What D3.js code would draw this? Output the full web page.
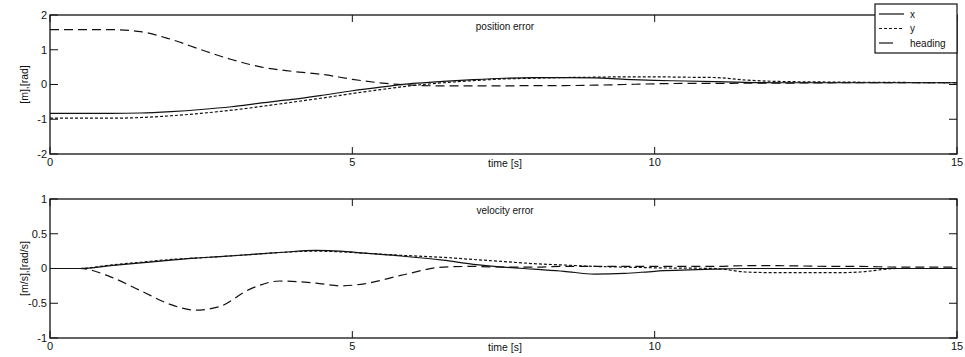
<!DOCTYPE html>
<html>
<head>
<meta charset="utf-8">
<script src="https://cdn.jsdelivr.net/npm/d3@7"></script>
<style>
  body { margin: 0; background: #fff; }
  text { font-family: "Liberation Sans", Arial, sans-serif; fill: #111; }
</style>
</head>
<body>
<div id="chart"></div>
<script>
// time samples [s]
const timePos = [0, 1, 1.5, 2, 2.5, 3, 3.5, 4, 4.5, 5, 5.5, 6, 6.5, 7, 7.5, 8, 8.5, 9, 9.5, 10, 10.5, 11, 11.5, 12, 13, 14, 15];
const posX =    [-0.83, -0.83, -0.82, -0.78, -0.72, -0.64, -0.53, -0.43, -0.31, -0.18, -0.07, 0.03, 0.09, 0.14, 0.18, 0.2, 0.2, 0.19, 0.15, 0.12, 0.1, 0.08, 0.06, 0.05, 0.05, 0.05, 0.05];
const posY =    [-0.97, -0.97, -0.95, -0.9, -0.83, -0.74, -0.63, -0.51, -0.39, -0.26, -0.14, -0.03, 0.05, 0.11, 0.16, 0.18, 0.2, 0.21, 0.22, 0.22, 0.21, 0.2, 0.13, 0.09, 0.07, 0.06, 0.05];
const posHead = [1.58, 1.58, 1.52, 1.3, 1.0, 0.72, 0.5, 0.38, 0.29, 0.15, 0.04, -0.02, -0.04, -0.04, -0.04, -0.03, -0.03, -0.02, 0, 0.02, 0.03, 0.03, 0.04, 0.04, 0.05, 0.05, 0.05];

const timeVel = [0, 0.5, 1, 1.5, 2, 2.4, 2.8, 3.3, 3.8, 4.4, 4.8, 5.2, 5.8, 6.5, 7, 7.5, 8, 8.5, 9, 9.5, 10, 11, 11.5, 12, 13, 13.4, 14, 15];
const velX =    [0, 0, 0.04, 0.08, 0.12, 0.15, 0.17, 0.2, 0.23, 0.26, 0.25, 0.22, 0.18, 0.12, 0.06, 0.02, -0.01, -0.04, -0.08, -0.07, -0.04, -0.01, 0, 0, 0, 0, 0, 0];
const velY =    [0, 0, 0.05, 0.09, 0.13, 0.15, 0.17, 0.2, 0.23, 0.25, 0.24, 0.22, 0.19, 0.16, 0.13, 0.1, 0.07, 0.05, 0.03, 0.02, 0.01, 0, -0.05, -0.06, -0.06, -0.05, 0, 0];
const velHead = [0, 0, -0.12, -0.32, -0.52, -0.6, -0.55, -0.3, -0.18, -0.21, -0.25, -0.22, -0.1, 0.02, 0.03, 0.02, 0.02, 0.03, 0.03, 0.03, 0.03, 0.03, 0.04, 0.04, 0.03, 0.03, 0.02, 0.02];

const xTicks = [0, 5, 10, 15];
const posTicks = [-2, -1, 0, 1, 2];
const velTicks = [-1, -0.5, 0, 0.5, 1];
const legendNames = ["x", "y", "heading"];

const width = 965, height = 357;
const left = 50, right = 957;
const dashes = [null, "3,2", "9,5"];

const svg = d3.select("#chart").append("svg")
  .attr("width", width).attr("height", height);

const x = d3.scaleLinear().domain([0, 15]).range([left, right]);

function panel(top, bottom, domain, yTicks, times, series, title, ylabel) {
  const y = d3.scaleLinear().domain(domain).range([bottom, top]);
  const g = svg.append("g");

  // frame
  g.append("rect")
    .attr("x", left).attr("y", top)
    .attr("width", right - left).attr("height", bottom - top)
    .attr("fill", "none").attr("stroke", "#111").attr("stroke-width", 1.3);

  // inward ticks, both sides
  g.selectAll(".yt").data(yTicks).join("line")
    .attr("x1", left).attr("x2", left + 8)
    .attr("y1", d => y(d)).attr("y2", d => y(d))
    .attr("stroke", "#111");
  g.selectAll(".yt2").data(yTicks).join("line")
    .attr("x1", right - 8).attr("x2", right)
    .attr("y1", d => y(d)).attr("y2", d => y(d))
    .attr("stroke", "#111");
  g.selectAll(".xt").data(xTicks).join("line")
    .attr("x1", d => x(d)).attr("x2", d => x(d))
    .attr("y1", top).attr("y2", top + 7)
    .attr("stroke", "#111");
  g.selectAll(".xt2").data(xTicks).join("line")
    .attr("x1", d => x(d)).attr("x2", d => x(d))
    .attr("y1", bottom - 7).attr("y2", bottom)
    .attr("stroke", "#111");

  // tick labels
  g.selectAll(".yl").data(yTicks).join("text")
    .attr("x", left - 3).attr("y", d => y(d))
    .attr("dy", "0.35em").attr("text-anchor", "end")
    .attr("font-size", 11)
    .text(d => d);
  g.selectAll(".xl").data(xTicks).join("text")
    .attr("x", d => x(d)).attr("y", bottom + 12)
    .attr("text-anchor", "middle").attr("font-size", 11)
    .text(d => d);

  g.append("text")
    .attr("x", 505).attr("y", bottom + 13)
    .attr("text-anchor", "middle").attr("font-size", 10.5)
    .text("time [s]");
  g.append("text")
    .attr("x", 505).attr("y", top + 15)
    .attr("text-anchor", "middle").attr("font-size", 10)
    .text(title);
  g.append("text")
    .attr("transform", `translate(28,${(top + bottom) / 2}) rotate(-90)`)
    .attr("text-anchor", "middle").attr("font-size", 10.5)
    .text(ylabel);

  const line = d3.line()
    .x((d, i) => x(times[i]))
    .y(d => y(d))
    .curve(d3.curveMonotoneX);

  series.forEach((s, k) => {
    g.append("path")
      .datum(s)
      .attr("d", line)
      .attr("fill", "none")
      .attr("stroke", "#111")
      .attr("stroke-width", 1.2)
      .attr("stroke-dasharray", dashes[k]);
  });
}

panel(15, 154, [-2, 2], posTicks, timePos, [posX, posY, posHead],
  "position error", "[m],[rad]");
panel(199, 338, [-1, 1], velTicks, timeVel, [velX, velY, velHead],
  "velocity error", "[m/s],[rad/s]");

// legend
const lg = svg.append("g");
lg.append("rect")
  .attr("x", 875).attr("y", 4).attr("width", 82).attr("height", 49)
  .attr("fill", "#fff").attr("stroke", "#111").attr("stroke-width", 1.2);
legendNames.forEach((name, k) => {
  const yy = 14 + k * 14.5;
  lg.append("line")
    .attr("x1", 879).attr("x2", k === 2 ? 893 : 904)
    .attr("y1", yy).attr("y2", yy)
    .attr("stroke", "#111").attr("stroke-width", 1.2)
    .attr("stroke-dasharray", k === 1 ? "3,2" : null);
  lg.append("text")
    .attr("x", 910).attr("y", yy).attr("dy", "0.35em")
    .attr("font-size", 10)
    .text(name);
});
</script>
</body>
</html>
